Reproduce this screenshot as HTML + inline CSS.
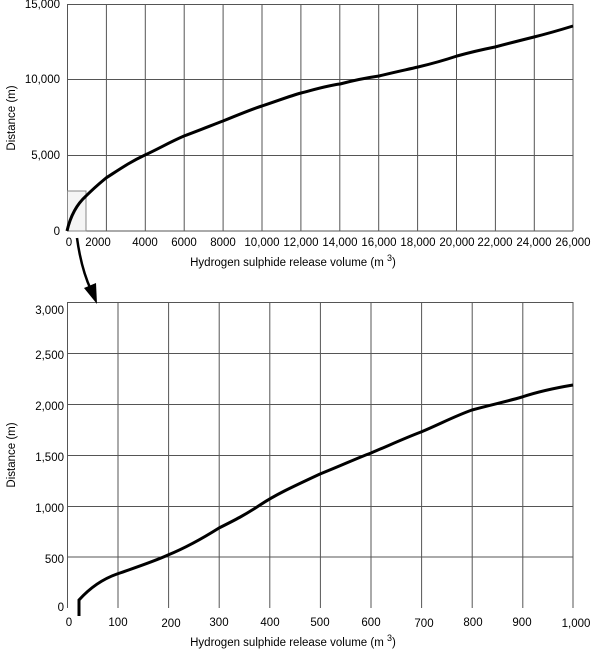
<!DOCTYPE html>
<html><head><meta charset="utf-8"><style>body{margin:0;background:#fff}svg{display:block}text{font-family:"Liberation Sans",Arial,sans-serif;font-size:11.5px;fill:#000}</style></head><body>
<svg width="600" height="665" viewBox="0 0 600 665">
<g stroke="#555" stroke-width="1" fill="none">
<path d="M67.5 4V231 M106.4 4V231 M145.3 4V231 M184.2 4V231 M223.1 4V231 M262 4V231 M300.9 4V231 M339.8 4V231 M378.7 4V231 M417.6 4V231 M456.5 4V231 M495.4 4V231 M534.3 4V231 M573 4V231"/>
<path d="M67 4.5H573 M67 79.5H573 M67 155.5H573 M67 231H573"/>
<rect x="67.5" y="191" width="18.5" height="40" fill="#f5f5f5" stroke="#888"/>
<path d="M67.5 302V608 M118 302V608 M168.6 302V608 M219.2 302V608 M269.8 302V608 M320.4 302V608 M371 302V608 M421.6 302V608 M472.2 302V608 M522.8 302V608 M573 302V608"/>
<path d="M67 302.5H573 M67 353.5H573 M67 404.5H573 M67 455.5H573 M67 506.5H573 M67 557H573"/>
</g>
<path d="M67 231 C70 218 76 205 86 196 C95 187 100 183 106 178 C120 169 130 162 145 155 C160 148 170 142 184 136 C200 130 215 124 223 121 C245 112 255 108 262 106 C280 100 290 96 301 93 C320 88 330 85 340 84 C355 80 365 78 379 76 C395 72 405 70 418 67 C435 63 445 60 457 56 C475 51 485 49 495 47 C510 43 522 40 534 37 C550 33 560 30 573 26" fill="none" stroke="#000" stroke-width="3"/>
<path d="M79 616V600 C88 590 100 580 117 574 C140 566 155 561 168 555 C185 548 200 540 219 528 C235 520 245 515 260 505 C275 495 290 488 320 474 C345 464 355 459 371 453 C390 445 405 438 421 432 C440 424 455 416 472 410 C490 405 505 402 522 397 C540 391 555 388 573 385" fill="none" stroke="#000" stroke-width="3"/>
<path d="M77 238 C80 260 85 277 91 290" fill="none" stroke="#000" stroke-width="2.5"/>
<polygon points="97,304 84,288 96,283" fill="#000"/>
<g text-anchor="end">
<text x="60" y="8">15,000</text><text x="60" y="83">10,000</text><text x="60" y="159">5,000</text><text x="60" y="235">0</text>
<text x="64" y="314">3,000</text><text x="64" y="359">2,500</text><text x="64" y="410">2,000</text><text x="64" y="461">1,500</text><text x="64" y="512">1,000</text><text x="64" y="563">500</text><text x="64" y="611">0</text>
</g>
<g text-anchor="middle">
<text x="69" y="246">0</text><text x="98" y="246">2000</text><text x="145" y="246">4000</text><text x="184" y="246">6000</text><text x="223" y="246">8000</text><text x="262" y="246">10,000</text><text x="301" y="246">12,000</text><text x="340" y="246">14,000</text><text x="379" y="246">16,000</text><text x="418" y="246">18,000</text><text x="457" y="246">20,000</text><text x="495" y="246">22,000</text><text x="534" y="246">24,000</text><text x="573" y="246">26,000</text>
<text x="69" y="626">0</text><text x="118" y="626">100</text><text x="171" y="627">200</text><text x="219" y="626">300</text><text x="270" y="626">400</text><text x="320" y="626">500</text><text x="371" y="626">600</text><text x="424" y="627">700</text><text x="473" y="626">800</text><text x="522" y="626">900</text><text x="576" y="627">1,000</text>
<text x="293" y="266" font-size="13">Hydrogen sulphide release volume (m <tspan baseline-shift="super" font-size="9">3</tspan>)</text>
<text x="293" y="646" font-size="13">Hydrogen sulphide release volume (m <tspan baseline-shift="super" font-size="9">3</tspan>)</text>
<text transform="translate(15,118) rotate(-90)" font-size="12">Distance (m)</text>
<text transform="translate(15,455) rotate(-90)" font-size="12">Distance (m)</text>
</g>
</svg>
</body></html>
